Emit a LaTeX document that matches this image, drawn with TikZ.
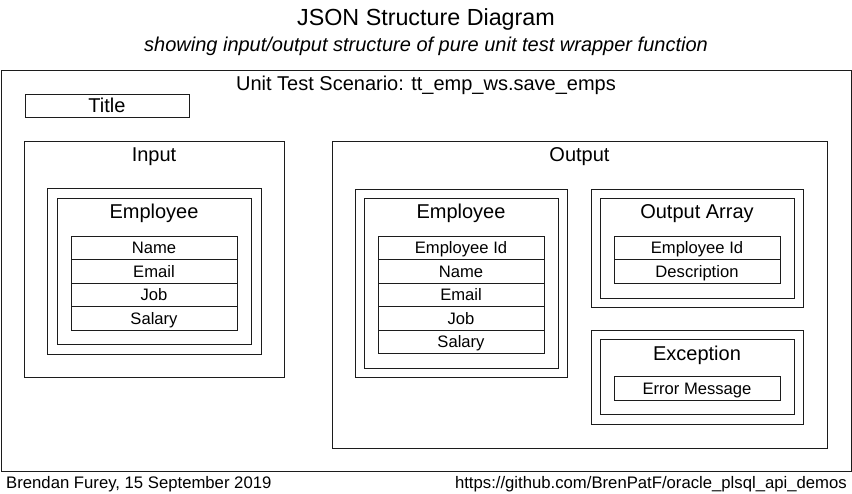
\documentclass[tikz,border=0pt]{standalone}
\usepackage{fontspec}
\setmainfont{Liberation Sans}
\usepackage{tikz}
\usetikzlibrary{positioning,calc}
\definecolor{boxline}{HTML}{1C1C1C}
\definecolor{ink}{HTML}{000000}

\begin{document}
\begin{tikzpicture}[x=1pt,y=-1pt,
  box/.style={draw=boxline,line width=0.8pt,inner sep=0pt,outer sep=0pt,anchor=north west},
  nest/.style={draw=boxline,line width=0.8pt,inner sep=0pt,outer sep=0pt},
  head/.style={font=\fontsize{20}{24}\selectfont,anchor=base,inner sep=0pt,text=ink},
  field/.style={draw=boxline,line width=0.8pt,outer sep=0pt,minimum width=166pt,
    minimum height=23.5pt,font=\fontsize{16.6}{19}\selectfont,text height=11.9pt,
    text depth=0pt,text=ink},
  foot/.style={font=\fontsize{16.7}{19}\selectfont,inner sep=0pt,text=ink}
]
\useasboundingbox (0,0) rectangle (852,494);
% heading
\node[font=\fontsize{23.3}{27}\selectfont,anchor=base,inner sep=0pt] (title) at (426,26)
  {JSON Structure Diagram};
\node[font=\fontsize{20}{24}\selectfont\itshape,anchor=base,inner sep=0pt] (subtitle) at (426,52)
  {showing input/output structure of pure unit test wrapper function};

% scenario frame
\node[box,minimum width=850pt,minimum height=401pt] (scenario) at (1,70) {};
\node[head] (scenariolbl) at ($(scenario.north)+(0,21)$)
  {Unit Test Scenario: tt\_emp\_ws.save\_emps};
\node[box,minimum width=164pt,minimum height=23pt,font=\fontsize{20}{24}\selectfont,
  text height=14.3pt,text depth=0pt] (titlebox) at (25,94) {Title};

% input side
\node[box,minimum width=260pt,minimum height=236pt] (input) at (24,141) {};
\node[head] (inputlbl) at ($(input.north)+(0,21)$) {Input};
\node[box,minimum width=214pt,minimum height=166pt] (inemp) at (47,188) {};
\node[nest,minimum width=194pt,minimum height=146pt] (inempin) at (inemp.center) {};
\node[head] (inemplbl) at ($(inempin.north)+(0,21)$) {Employee};
\node[field,below=38pt of inempin.north] (infield1) {Name};
\foreach \lbl [count=\i from 2, remember=\i as \j (initially 1)] in {Email,Job,Salary}
  \node[field,below=0pt of infield\j] (infield\i) {\lbl};

% output side
\node[box,minimum width=495pt,minimum height=307pt] (output) at (332,141) {};
\node[head] (outputlbl) at ($(output.north)+(0,21)$) {Output};
\node[box,minimum width=212pt,minimum height=188pt] (outemp) at (355,189) {};
\node[nest,minimum width=194pt,minimum height=170pt] (outempin) at (outemp.center) {};
\node[head] (outemplbl) at ($(outempin.north)+(0,21)$) {Employee};
\node[field,below=38pt of outempin.north] (outfield1) {Employee Id};
\foreach \lbl [count=\i from 2, remember=\i as \j (initially 1)] in {Name,Email,Job,Salary}
  \node[field,below=0pt of outfield\j] (outfield\i) {\lbl};

\node[box,minimum width=212pt,minimum height=118pt] (outarr) at (591,189) {};
\node[nest,minimum width=194pt,minimum height=100pt] (outarrin) at (outarr.center) {};
\node[head] (outarrlbl) at ($(outarrin.north)+(0,21)$) {Output Array};
\node[field,below=38pt of outarrin.north] (arrfield1) {Employee Id};
\node[field,below=0pt of arrfield1] (arrfield2) {Description};

\node[box,minimum width=212pt,minimum height=94pt] (exc) at (591,330) {};
\node[nest,minimum width=194pt,minimum height=75pt] (excin) at (exc.center) {};
\node[head] (exclbl) at ($(excin.north)+(0,21)$) {Exception};
\node[field,below=37pt of excin.north] (excfield) {Error Message};

% footer
\node[foot,anchor=base west] (author) at (6,488) {Brendan Furey, 15 September 2019};
\node[foot,anchor=base east] (repo) at (847,488) {https://github.com/BrenPatF/oracle\_plsql\_api\_demos};
\end{tikzpicture}
\end{document}
